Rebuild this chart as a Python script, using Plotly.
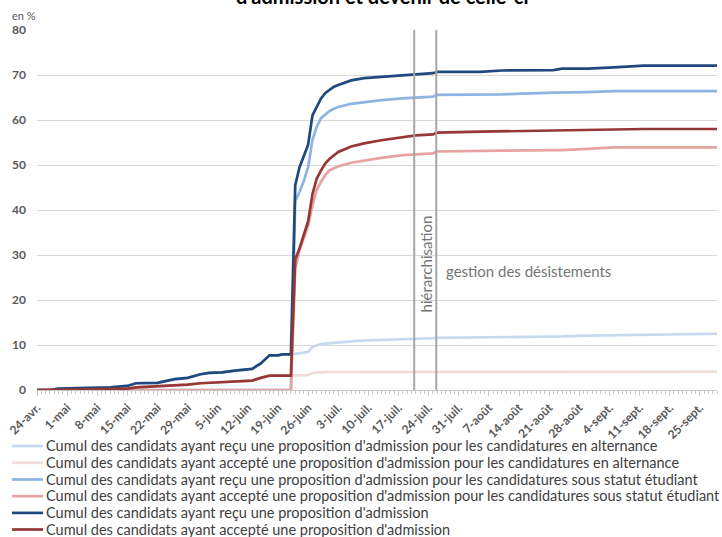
import plotly.graph_objects as go

# ---------------- data ----------------
tick_dates = ["2023-04-24", "2023-05-01", "2023-05-08", "2023-05-15", "2023-05-22", "2023-05-29",
              "2023-06-05", "2023-06-12", "2023-06-19", "2023-06-26", "2023-07-03", "2023-07-10",
              "2023-07-17", "2023-07-24", "2023-07-31", "2023-08-07", "2023-08-14", "2023-08-21",
              "2023-08-28", "2023-09-04", "2023-09-11", "2023-09-18", "2023-09-25"]
tick_labels = ["24-avr.", "1-mai", "8-mai", "15-mai", "22-mai", "29-mai", "5-juin", "12-juin",
               "19-juin", "26-juin", "3-juil.", "10-juil.", "17-juil.", "24-juil.", "31-juil.",
               "7-août", "14-août", "21-août", "28-août", "4-sept.", "11-sept.", "18-sept.", "25-sept."]

pre_dates = ["2023-04-24", "2023-04-27", "2023-04-29", "2023-05-06", "2023-05-09", "2023-05-11",
             "2023-05-15", "2023-05-17", "2023-05-22", "2023-05-26", "2023-05-29", "2023-06-01",
             "2023-06-03", "2023-06-06", "2023-06-09", "2023-06-12", "2023-06-13", "2023-06-15",
             "2023-06-17", "2023-06-19", "2023-06-20", "2023-06-22"]
pre_recu = [0, 0, 0.3, 0.4, 0.5, 0.6, 0.9, 1.5, 1.6, 2.4, 2.7, 3.5, 3.8, 3.9, 4.3, 4.7, 4.7, 5.9,
            7.7, 7.7, 7.9, 7.9]
pre_accepte = [0, 0, 0.0, 0.15, 0.2, 0.2, 0.3, 0.6, 0.8, 1.0, 1.2, 1.5, 1.6, 1.8, 2.0, 2.1, 2.1,
               2.7, 3.2, 3.2, 3.2, 3.2]

post_dates = ["2023-06-23", "2023-06-24", "2023-06-25", "2023-06-26", "2023-06-27", "2023-06-28",
              "2023-06-29", "2023-06-30", "2023-07-01", "2023-07-02", "2023-07-03", "2023-07-06",
              "2023-07-09", "2023-07-13", "2023-07-18", "2023-07-21", "2023-07-25", "2023-07-26",
              "2023-08-05", "2023-08-10", "2023-08-22", "2023-08-24", "2023-08-30", "2023-09-05",
              "2023-09-12", "2023-09-29"]
post_recu_total = [45.5, 49.5, 52.0, 54.5, 61.0, 62.8, 64.8, 66.0, 66.8, 67.4, 67.8, 68.8, 69.3,
                   69.6, 70.0, 70.2, 70.4, 70.7, 70.7, 71.0, 71.1, 71.4, 71.4, 71.7, 72.1, 72.1]
post_accepte_total = [29.0, 31.5, 34.5, 37.5, 43.5, 47.0, 48.8, 50.4, 51.4, 52.2, 52.9, 54.1, 54.8,
                      55.5, 56.2, 56.6, 56.8, 57.2, 57.4, 57.5, 57.6, 57.7, 57.9, 58.0, 58.0, 58.0]
post_recu_etudiant = [42.0, 44.0, 46.5, 49.5, 55.5, 58.5, 60.4, 61.3, 62.0, 62.5, 62.9, 63.6, 64.0,
                      64.4, 64.8, 65.0, 65.2, 65.6, 65.6, 65.7, 66.1, 66.1, 66.2, 66.4, 66.4, 66.4]
post_accepte_etudiant = [27.0, 31.0, 33.8, 36.5, 41.0, 44.5, 46.3, 47.8, 48.8, 49.3, 49.7, 50.5,
                         51.0, 51.6, 52.2, 52.4, 52.6, 53.0, 53.2, 53.2, 53.3, 53.3, 53.6, 53.9,
                         53.9, 53.9]
post_recu_alternance = [8.0, 8.1, 8.3, 8.5, 9.6, 9.9, 10.2, 10.3, 10.4, 10.5, 10.6, 10.8, 11.0,
                        11.1, 11.3, 11.4, 11.5, 11.6, 11.7, 11.7, 11.8, 11.9, 12.1, 12.2, 12.3, 12.5]
post_accepte_alternance = [3.2, 3.2, 3.2, 3.3, 3.8, 3.9, 3.9, 4.0, 4.0, 4.0, 4.0, 4.0, 4.0, 4.0,
                           4.0, 4.0, 4.0, 4.0, 4.1, 4.1, 4.1, 4.1, 4.1, 4.1, 4.1, 4.1]
pre_etudiant = [0] * len(pre_dates)

names = [
    "Cumul des candidats ayant reçu une proposition d'admission pour les candidatures en alternance",
    "Cumul des candidats ayant accepté une proposition d'admission pour les candidatures en alternance",
    "Cumul des candidats ayant reçu une proposition d'admission pour les candidatures sous statut étudiant",
    "Cumul des candidats ayant accepté une proposition d'admission pour les candidatures sous statut étudiant",
    "Cumul des candidats ayant reçu une proposition d'admission",
    "Cumul des candidats ayant accepté une proposition d'admission",
]
colors = ["#c6d9f1", "#f2dcdb", "#8db4e2", "#e6a3a1", "#1f497d", "#953735"]

series = [
    pre_recu + post_recu_alternance,
    pre_accepte + post_accepte_alternance,
    pre_etudiant + post_recu_etudiant,
    pre_etudiant + post_accepte_etudiant,
    pre_recu + post_recu_total,
    pre_accepte + post_accepte_total,
]
all_dates = pre_dates + post_dates

hier_date = "2023-07-20 15:30"
desist_date = "2023-07-25 18:30"

FONT = "Lato"
GREY = "#595959"

# pixel helpers for paper coordinates (plot area: x 37..717, y 30..390)
def px(x):
    return (x - 37) / 680.0

def py(y):
    return (390 - y) / 360.0

fig = go.Figure()
for name, col, vals in zip(names, colors, series):
    fig.add_trace(go.Scatter(x=all_dates, y=vals, mode="lines", name=name,
                             line=dict(color=col, width=2.7), showlegend=False))

for d in (hier_date, desist_date):
    fig.add_shape(type="line", xref="x", yref="y", x0=d, x1=d, y0=0, y1=80,
                  line=dict(color="#a6a6a6", width=2), layer="above")

# legend (drawn as text + line samples so the row spacing matches)
legend_rows_y = [446, 462.8, 479.5, 496.2, 512.9, 529.5]
for name, col, ry in zip(names, colors, legend_rows_y):
    fig.add_shape(type="line", xref="paper", yref="paper", x0=px(12), x1=px(43), y0=py(ry), y1=py(ry),
                  line=dict(color=col, width=2.7))
    fig.add_annotation(x=px(44), y=py(ry), xref="paper", yref="paper", text=name,
                       xanchor="left", yanchor="middle", showarrow=False, yshift=0.5,
                       font=dict(family=FONT, size=14.5, color="#404040"))

fig.add_annotation(x="2023-07-23 12:00", y=28, xref="x", yref="y", text="hiérarchisation",
                   textangle=-90, showarrow=False, font=dict(family=FONT, size=15, color="#767676"))
fig.add_annotation(x="2023-07-27 12:00", y=26.5, xref="x", yref="y", text="gestion des désistements",
                   xanchor="left", showarrow=False, font=dict(family=FONT, size=15, color="#767676"))
fig.add_annotation(x=px(10), y=py(16), xref="paper", yref="paper", text="en %",
                   xanchor="left", yanchor="middle", showarrow=False,
                   font=dict(family=FONT, size=11, color=GREY))
fig.add_annotation(x=px(382), y=py(10), xref="paper", yref="paper",
                   text="<b>d'admission et devenir de celle-ci</b>", xanchor="center",
                   yanchor="bottom", showarrow=False, font=dict(family=FONT, size=20, color="#000000"))

fig.update_layout(
    width=722, height=537,
    margin=dict(l=37, r=5, t=30, b=147, autoexpand=False),
    paper_bgcolor="white", plot_bgcolor="white",
    font=dict(family=FONT, color=GREY),
    showlegend=False,
    xaxis=dict(type="date", range=["2023-04-24", "2023-09-29"], tickmode="array",
               tickvals=tick_dates, ticktext=tick_labels, tickangle=-45, automargin=False,
               tickfont=dict(family=FONT, size=12, color=GREY, weight="bold"),
               showgrid=False, showline=True, linecolor="#c8c8c8", linewidth=1,
               ticks="outside", ticklen=5, tickcolor="#c8c8c8",
               minor=dict(tickmode="linear", tick0="2023-04-24", dtick=86400000,
                          ticks="outside", ticklen=3, tickcolor="#c8c8c8", showgrid=False),
               zeroline=False),
    yaxis=dict(range=[0, 80], dtick=10, tick0=0, showgrid=True, gridcolor="#d9d9d9", gridwidth=1,
               zeroline=False, showline=False, ticks="", automargin=False,
               tickfont=dict(family=FONT, size=12, color=GREY, weight="bold"),
               ticklabelstandoff=10),
)

fig.write_html("out.html", config={"displayModeBar": False},
               post_script="document.body.style.margin='0px';")
